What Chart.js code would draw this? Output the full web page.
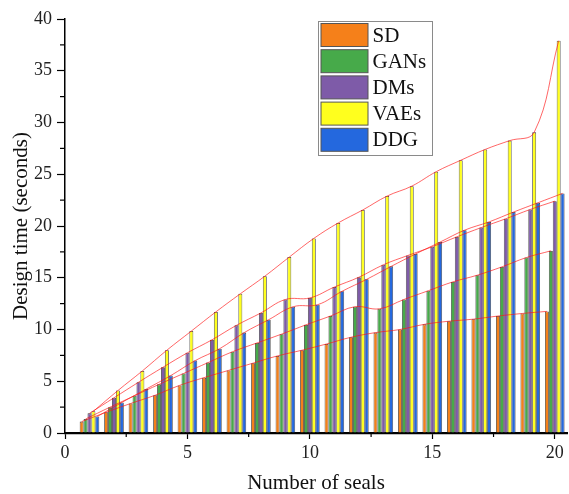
<!DOCTYPE html>
<html>
<head>
<meta charset="utf-8">
<script src="https://cdn.jsdelivr.net/npm/chart.js@4.4.1/dist/chart.umd.min.js"></script>
<style>
  html, body { margin: 0; padding: 0; background: #fff; }
  #wrap { width: 569px; height: 494px; }
</style>
</head>
<body>
<div id="wrap"><canvas id="sealsChart" width="569" height="494"></canvas></div>
<script>
// number of seals on the x axis
const seals = [1, 2, 3, 4, 5, 6, 7, 8, 9, 10, 11, 12, 13, 14, 15, 16, 17, 18, 19, 20];

// design time (seconds)
const sdTimes   = [1.1, 2.0, 2.85, 3.65, 4.6, 5.35, 6.05, 6.75, 7.45, 8.0, 8.6, 9.25, 9.7, 10.0, 10.5, 10.8, 11.0, 11.3, 11.55, 11.75];
const gansTimes = [1.35, 2.5, 3.6, 4.7, 5.75, 6.8, 7.85, 8.7, 9.55, 10.45, 11.3, 12.2, 12.0, 12.9, 13.75, 14.6, 15.25, 16.05, 16.95, 17.6];
const dmsTimes  = [1.9, 3.4, 4.9, 6.35, 7.75, 9.0, 10.4, 11.6, 12.9, 13.05, 14.1, 15.05, 16.25, 17.15, 18.0, 18.95, 19.85, 20.7, 21.6, 22.4];
const vaesTimes = [2.1, 4.1, 6.0, 8.0, 9.85, 11.7, 13.45, 15.15, 17.0, 18.8, 20.3, 21.55, 22.9, 23.85, 25.25, 26.35, 27.4, 28.25, 29.05, 37.9];
const ddgTimes  = [1.6, 2.95, 4.25, 5.55, 7.0, 8.15, 9.7, 10.95, 12.2, 12.4, 13.7, 14.85, 16.1, 17.3, 18.45, 19.6, 20.4, 21.35, 22.25, 23.15];

const yTicks = [0, 5, 10, 15, 20, 25, 30, 35, 40];
const xTicks = [0, 5, 10, 15, 20];

const seriesNames  = ['SD', 'GANs', 'DMs', 'VAEs', 'DDG'];
const seriesData   = [sdTimes, gansTimes, dmsTimes, vaesTimes, ddgTimes];
const seriesColors = ['#F5801A', '#47AA4A', '#7E5BA8', '#FFFF1E', '#2468DE'];

const GROUP_WIDTH = 0.8;
const BAR_WIDTH = GROUP_WIDTH / seriesNames.length;
const SERIF = '"Liberation Serif", "Times New Roman", serif';

const datasets = [];
seriesNames.forEach(function(name, i) {
    datasets.push({
        type: 'bar',
        label: name,
        data: seals.map((s, j) => ({ x: s, y: seriesData[i][j] })),
        backgroundColor: seriesColors[i],
        borderColor: '#3a3a3a',
        borderWidth: 0.8,
        categoryPercentage: GROUP_WIDTH,
        barPercentage: 1,
        order: 2
    });
});
// red trend curves through the top of each bar
seriesNames.forEach(function(name, i) {
    const shift = (i - (seriesNames.length - 1) / 2) * BAR_WIDTH;
    datasets.push({
        type: 'line',
        label: name + ' trend',
        data: seals.map((s, j) => ({ x: s + shift, y: seriesData[i][j] })),
        borderColor: 'rgba(255, 20, 20, 0.65)',
        borderWidth: 1,
        pointRadius: 0,
        tension: 0.4,
        fill: false,
        order: 1
    });
});

const minorTicks = {
    id: 'minorTicks',
    afterDraw(chart) {
        const ctx = chart.ctx;
        const xs = chart.scales.x, ys = chart.scales.y;
        ctx.save();
        ctx.strokeStyle = '#000';
        ctx.lineWidth = 1.2;
        for (let v = 2.5; v < 20.5; v += 5) {
            const px = xs.getPixelForValue(v);
            ctx.beginPath();
            ctx.moveTo(px, chart.chartArea.bottom);
            ctx.lineTo(px, chart.chartArea.bottom + 4);
            ctx.stroke();
        }
        for (let v = 2.5; v < 40; v += 5) {
            const py = ys.getPixelForValue(v);
            ctx.beginPath();
            ctx.moveTo(chart.chartArea.left, py);
            ctx.lineTo(chart.chartArea.left - 5, py);
            ctx.stroke();
        }
        ctx.restore();
    }
};

const boxLegend = {
    id: 'boxLegend',
    afterDraw(chart) {
        const ctx = chart.ctx;
        const left = 318.5, top = 21.5, w = 114, h = 134;
        ctx.save();
        ctx.fillStyle = '#fff';
        ctx.fillRect(left, top, w, h);
        ctx.strokeStyle = '#8a8a8a';
        ctx.lineWidth = 1;
        ctx.strokeRect(left, top, w, h);
        ctx.font = '21px ' + SERIF;
        ctx.textBaseline = 'middle';
        ctx.textAlign = 'left';
        seriesNames.forEach(function(name, i) {
            const y = top + 2 + i * 26.2;
            ctx.fillStyle = seriesColors[i];
            ctx.fillRect(left + 2.5, y, 47, 23);
            ctx.strokeStyle = '#555';
            ctx.strokeRect(left + 2.5, y, 47, 23);
            ctx.fillStyle = '#111';
            ctx.fillText(name, left + 54, y + 12.5);
        });
        ctx.restore();
    }
};

new Chart(document.getElementById('sealsChart').getContext('2d'), {
    data: { datasets: datasets },
    options: {
        responsive: false,
        animation: false,
        layout: { padding: { top: 19, right: 2, left: 0, bottom: 0 } },
        plugins: {
            legend: { display: false },
            tooltip: { enabled: false }
        },
        scales: {
            x: {
                type: 'linear',
                min: 0,
                max: 20.5,
                offset: false,
                afterFit: function(scale) { scale.height = 61; },
                afterBuildTicks: function(scale) { scale.ticks = xTicks.map(v => ({ value: v })); },
                grid: { display: true, drawOnChartArea: false, drawTicks: true, tickLength: 6, color: '#000', tickWidth: 1.2, offset: false },
                border: { display: true, color: '#000', width: 2.2 },
                ticks: { color: '#222', padding: 3, maxRotation: 0, font: { family: SERIF, size: 18 } },
                title: { display: true, text: 'Number of seals', color: '#111', padding: { top: 0, bottom: 0 }, font: { family: SERIF, size: 21, lineHeight: 1 } }
            },
            y: {
                type: 'linear',
                min: 0,
                max: 40,
                afterFit: function(scale) { scale.width = 65; },
                afterBuildTicks: function(scale) { scale.ticks = yTicks.map(v => ({ value: v })); },
                grid: { display: true, drawOnChartArea: false, drawTicks: true, tickLength: 8, color: '#000', tickWidth: 1.2 },
                border: { display: true, color: '#000', width: 1.5 },
                ticks: { color: '#222', padding: 5, font: { family: SERIF, size: 18 } },
                title: { display: true, text: 'Design time (seconds)', color: '#111', padding: { top: 9, bottom: 0 }, font: { family: SERIF, size: 21 } }
            }
        }
    },
    plugins: [minorTicks, boxLegend]
});
</script>
</body>
</html>
